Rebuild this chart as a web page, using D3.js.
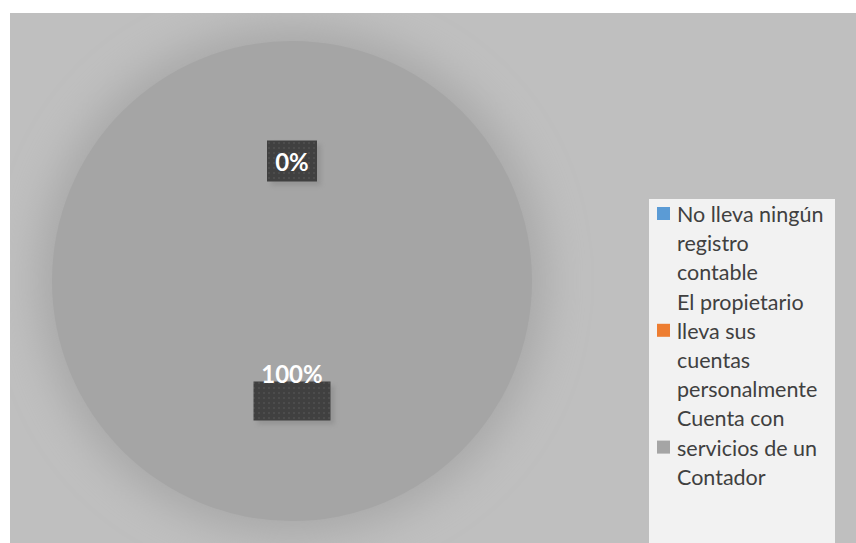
<!DOCTYPE html>
<html>
<head>
<meta charset="utf-8">
<script src="https://cdn.jsdelivr.net/npm/d3@7"></script>
<style>
  html, body { margin: 0; padding: 0; background: #ffffff; }
  svg { display: block; }
</style>
</head>
<body>
<svg id="chart" width="856" height="543"></svg>
<script>
// Categories, values and palette of the pie
const categories = [
  "No lleva ningún registro contable",
  "El propietario lleva sus cuentas personalmente",
  "Cuenta con servicios de un Contador"
];
const values = [0, 0, 100];
const colors = ["#5b9bd5", "#ed7d31", "#a5a5a5"];
// Legend text, already broken into lines
const legendLines = [
  ["No lleva ningún", "registro", "contable"],
  ["El propietario", "lleva sus", "cuentas", "personalmente"],
  ["Cuenta con", "servicios de un", "Contador"]
];

const svg = d3.select("#chart");
const W = 856, H = 543;
const FONT = "Lato, 'Liberation Sans', sans-serif";
const area = { x: 10, y: 13, w: W - 10, h: H - 13 };

const defs = svg.append("defs");
defs.append("clipPath").attr("id", "areaClip")
  .append("rect").attr("x", area.x).attr("y", area.y).attr("width", area.w).attr("height", area.h);

const soft = defs.append("filter").attr("id", "soft")
  .attr("x", "-40%").attr("y", "-40%").attr("width", "180%").attr("height", "180%");
soft.append("feGaussianBlur").attr("stdDeviation", 20);

const boxShadow = defs.append("filter").attr("id", "boxShadow")
  .attr("x", "-30%").attr("y", "-30%").attr("width", "160%").attr("height", "160%");
boxShadow.append("feGaussianBlur").attr("stdDeviation", 2);

const dots = defs.append("pattern").attr("id", "dots")
  .attr("patternUnits", "userSpaceOnUse").attr("width", 5).attr("height", 5);
dots.append("rect").attr("width", 5).attr("height", 5).attr("fill", "#404040");
dots.append("rect").attr("x", 1).attr("y", 1).attr("width", 2).attr("height", 2).attr("fill", "#4c4c4c");

// Chart area
const plot = svg.append("g").attr("clip-path", "url(#areaClip)");
plot.append("rect")
  .attr("x", area.x).attr("y", area.y).attr("width", area.w).attr("height", area.h)
  .attr("fill", "#bfbfbf");

const cx = 292, cy = 281, r = 240;

const pie = d3.pie().sort(null).value(d => d)(values);
const arc = d3.arc().innerRadius(0).outerRadius(r);

const g = plot.append("g").attr("transform", `translate(${cx},${cy})`);

// Soft shadow under the pie
g.append("circle")
  .attr("r", r + 14)
  .attr("fill", "#a8a8a8")
  .attr("filter", "url(#soft)");

g.selectAll("path.slice")
  .data(pie)
  .join("path")
  .attr("class", "slice")
  .attr("d", arc)
  .attr("fill", (d, i) => colors[i]);

// Data labels
const fmt = v => Math.round(v / d3.sum(values) * 100) + "%";
const labelData = [
  { d: pie[0], w: 50, h: 41, dy: 4 },
  { d: pie[2], w: 77, h: 39, dy: -24 }
];
labelData.forEach(L => {
  const [lx, ly] = arc.centroid(L.d);
  const lg = g.append("g").attr("transform", `translate(${lx},${ly})`);
  lg.append("rect")
    .attr("x", -L.w / 2 + 4).attr("y", -L.h / 2 + 4)
    .attr("width", L.w).attr("height", L.h)
    .attr("fill", "#8a8a8a").attr("opacity", 0.6)
    .attr("filter", "url(#boxShadow)");
  lg.append("rect")
    .attr("x", -L.w / 2).attr("y", -L.h / 2)
    .attr("width", L.w).attr("height", L.h)
    .attr("fill", "url(#dots)");
  lg.append("text")
    .attr("x", 0).attr("y", L.dy)
    .attr("text-anchor", "middle")
    .attr("dominant-baseline", "middle")
    .attr("font-family", FONT)
    .attr("font-weight", "bold")
    .attr("font-size", 24)
    .attr("fill", "#ffffff")
    .text(fmt(L.d.data));
});

// Legend
const legend = plot.append("g");
legend.append("rect")
  .attr("x", 649).attr("y", 199).attr("width", 186).attr("height", H - 199)
  .attr("fill", "#f2f2f2");

const lineH = 29.2;
const firstBaseline = 222;
let line = 0;
legendLines.forEach((lines, i) => {
  lines.forEach((t, k) => {
    legend.append("text")
      .attr("x", 677).attr("y", firstBaseline + (line + k) * lineH)
      .attr("font-family", FONT)
      .attr("font-size", 21.5)
      .attr("fill", "#404040")
      .text(t);
  });
  // each entry occupies a fixed four-line slot
  legend.append("rect")
    .attr("x", 657).attr("y", 207 + i * 4 * lineH)
    .attr("width", 13).attr("height", 13)
    .attr("fill", colors[i]);
  line += lines.length;
});
</script>
</body>
</html>
